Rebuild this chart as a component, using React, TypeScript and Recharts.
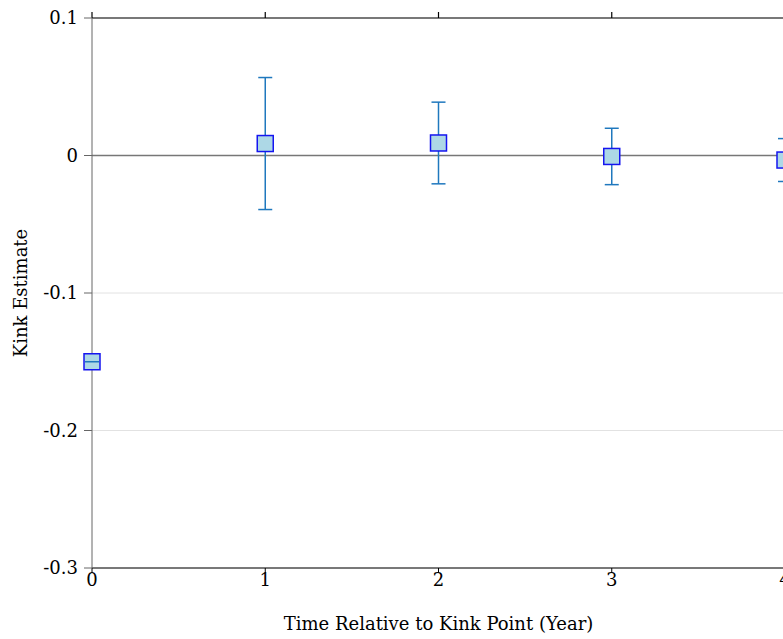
import React from 'react';
import {
  CartesianGrid,
  ComposedChart,
  ErrorBar,
  ReferenceLine,
  Scatter,
  XAxis,
  YAxis,
} from 'recharts';

const years = [0, 1, 2, 3, 4];
const estimates = [-0.15, 0.0087, 0.0091, -0.0007, -0.0033];
const errors = [0.0006, 0.048, 0.0297, 0.0205, 0.0156];
const xTicks = [0, 1, 2, 3, 4];
const yTicks = [-0.3, -0.2, -0.1, 0, 0.1];

const data = years.map((year, i) => ({
  year,
  estimate: estimates[i],
  err: errors[i],
}));

const font = '"DejaVu Serif", "Liberation Serif", serif';
const barColor = '#1F78BE';

const SquareDot = (props: any) => {
  const { cx, cy, payload } = props;
  if (cx == null || cy == null) return null;
  // a near-zero error bar shows up as a line through the marker
  const flat = payload && payload.err < 0.002;
  return (
    <g>
      <rect
        x={cx - 8}
        y={cy - 8}
        width={16}
        height={16}
        fill="#ADD8E6"
        stroke="#1515F0"
        strokeWidth={1.5}
      />
      {flat && (
        <line x1={cx - 7} x2={cx + 7} y1={cy} y2={cy} stroke={barColor} strokeWidth={1.5} />
      )}
    </g>
  );
};

const fmtY = (v: number) => (Math.abs(v) < 1e-9 ? '0' : v.toFixed(1));

export default function App() {
  return (
    <div
      style={{
        position: 'fixed',
        left: 0,
        top: 0,
        width: 783,
        height: 639,
        overflow: 'hidden',
        background: '#fff',
      }}
    >
      <ComposedChart
        width={800}
        height={639}
        data={data}
        margin={{ top: 17, right: 15, left: 0, bottom: 0 }}
        style={{ fontFamily: font }}
      >
        <CartesianGrid vertical={false} stroke="#e2e2e2" strokeWidth={1} />
        <XAxis
          xAxisId="bottom"
          dataKey="year"
          type="number"
          domain={[0, 4]}
          ticks={xTicks}
          height={71}
          stroke="#000"
          tickSize={5}
          tick={{ fill: '#000', fontSize: 18, fontFamily: font }}
          tickMargin={0}
          label={{
            value: 'Time Relative to Kink Point (Year)',
            position: 'insideBottom',
            offset: 9,
            fill: '#000',
            fontSize: 18,
            fontFamily: font,
          }}
        />
        <XAxis
          xAxisId="top"
          orientation="top"
          dataKey="year"
          type="number"
          domain={[0, 4]}
          ticks={xTicks}
          height={1}
          stroke="#000"
          strokeWidth={1.2}
          tickSize={6}
          tickFormatter={() => ''}
        />
        <YAxis
          type="number"
          domain={[-0.3, 0.1]}
          ticks={yTicks}
          width={92}
          stroke="#666"
          tickSize={8}
          tickFormatter={fmtY}
          tick={{ fill: '#000', fontSize: 18, fontFamily: font }}
          tickMargin={6}
          label={{
            value: 'Kink Estimate',
            angle: -90,
            position: 'center',
            dx: -25,
            fill: '#000',
            fontSize: 18,
            fontFamily: font,
          }}
        />
        <ReferenceLine xAxisId="bottom" y={0} stroke="#777" strokeWidth={1.5} />
        <Scatter
          xAxisId="bottom"
          dataKey="estimate"
          shape={SquareDot}
          isAnimationActive={false}
        >
          <ErrorBar
            dataKey="err"
            direction="y"
            width={7}
            stroke={barColor}
            strokeWidth={1.5}
          />
        </Scatter>
        <Scatter
          xAxisId="top"
          dataKey="estimate"
          shape={() => null}
          isAnimationActive={false}
        />
      </ComposedChart>
    </div>
  );
}
